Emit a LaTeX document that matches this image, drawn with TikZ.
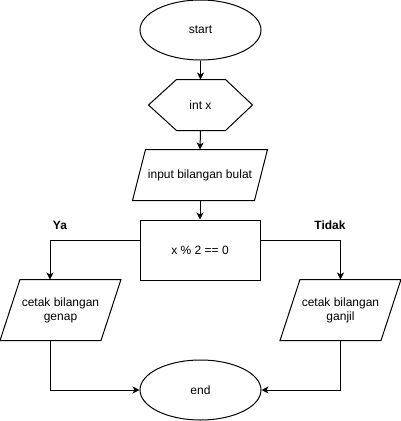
\documentclass[tikz,border=0pt]{standalone}
\usepackage{fontspec}
\setmainfont{Liberation Sans}
\usetikzlibrary{shapes.geometric,arrows.meta}
\begin{document}
\begin{tikzpicture}[x=1pt,y=-1pt,
  line width=1pt,
  every node/.style={font=\fontsize{12}{14}\selectfont, inner sep=0pt, align=center},
  terminal/.style={ellipse, draw, minimum width=121pt, minimum height=60pt},
  frame/.style={minimum width=#1, minimum height=50pt},
  procbox/.style={rectangle, draw, minimum width=120pt, minimum height=60pt},
  outline/.style={draw, line join=miter},
  flow/.style={-{Stealth[length=7pt,width=7pt,inset=2pt]}},
  lbl/.style={font=\fontsize{12}{14}\selectfont\bfseries}
]
\useasboundingbox (0,0) rectangle (401,421);

% terminals
\node[terminal] (start) at (200.5,30) {start};
\node[terminal] (end)   at (200.5,390) {end};

% declaration (hexagon)
\node[frame=103pt] (decl) at (200.5,105) {int x};
\draw[outline] (decl.west) -- ([xshift=28pt]decl.north west) -- ([xshift=-27pt]decl.north east)
  -- (decl.east) -- ([xshift=-27pt]decl.south east) -- ([xshift=28pt]decl.south west) -- cycle;

% input (parallelogram)
\node[frame=134pt] (inp) at (200,175) {input bilangan bulat};
\draw[outline] ([xshift=13pt]inp.north west) -- (inp.north east)
  -- ([xshift=-13pt]inp.south east) -- (inp.south west) -- cycle;

% condition
\node[procbox] (cond) at (200,250) {x \% 2 == 0};

% outputs (parallelograms)
\node[minimum width=120pt, minimum height=60pt] (even) at (60.5,310) {cetak bilangan\\genap};
\draw[outline] ([xshift=20pt]even.north west) -- (even.north east)
  -- ([xshift=-20pt]even.south east) -- (even.south west) -- cycle;

\node[minimum width=120pt, minimum height=60pt] (odd) at (340.5,310) {cetak bilangan\\ganjil};
\draw[outline] ([xshift=20pt]odd.north west) -- (odd.north east)
  -- ([xshift=-20pt]odd.south east) -- (odd.south west) -- cycle;

% branch labels
\node[lbl] (ya) at (60,225) {Ya};
\node[lbl] (tidak) at (330,225) {Tidak};

% connectors
\draw[flow] (start.south) -- (decl.north);
\draw[flow] (decl.south) -- (inp.north);
\draw[flow] (inp.south) -- (cond.north);
\draw[flow] ([yshift=10pt]cond.west) -| ([xshift=-10.5pt]even.north);
\draw[flow] ([yshift=10pt]cond.east) -| (odd.north);
\draw[flow] ([xshift=-10.5pt]even.south) |- (end.west);
\draw[flow] (odd.south) |- (end.east);
\end{tikzpicture}
\end{document}
